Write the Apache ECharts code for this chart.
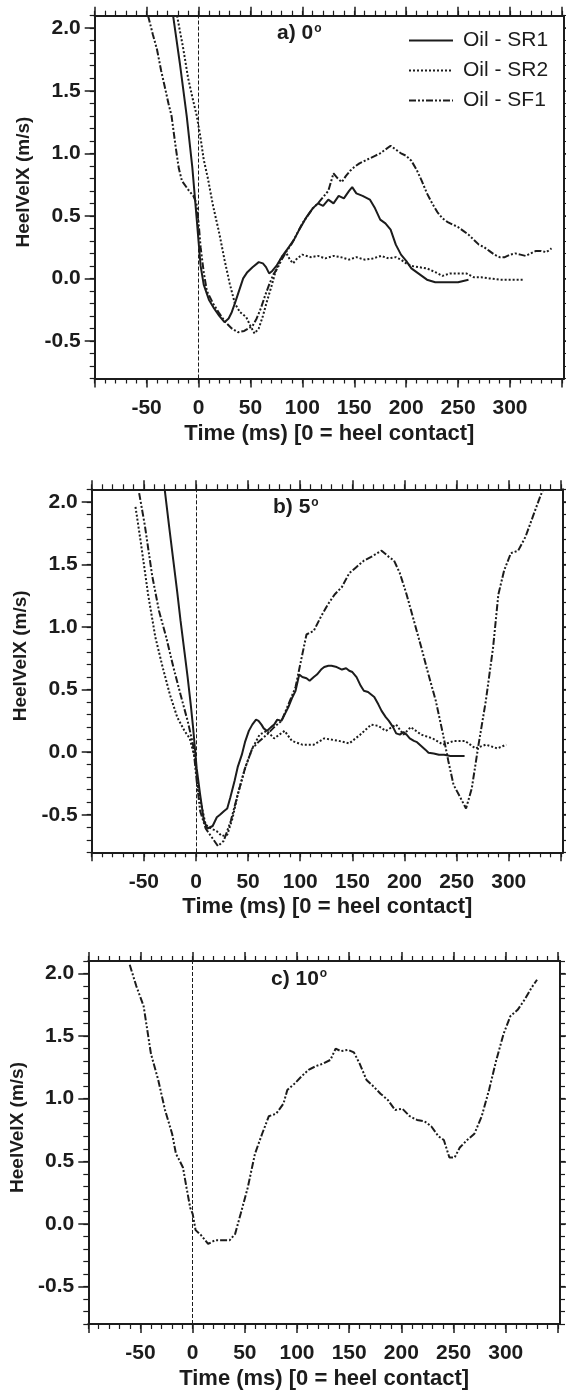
<!DOCTYPE html>
<html><head><meta charset="utf-8">
<script src="https://cdn.jsdelivr.net/npm/echarts@6/dist/echarts.min.js"></script>
<style>html,body{margin:0;padding:0;background:#fff}#c{width:566px;height:1391px}</style>
</head><body><div id="c"></div><script>
// ---------- axis ticks / labels ----------
const xMajorTicks = [-100, -50, 0, 50, 100, 150, 200, 250, 300, 350];
const xLabelValues = [-50, 0, 50, 100, 150, 200, 250, 300];
const yMajorTicks = [-0.5, 0, 0.5, 1.0, 1.5, 2.0];
const xMinorTicks = [-100,-90,-80,-70,-60,-50,-40,-30,-20,-10,0,10,20,30,40,50,60,70,80,90,100,110,120,130,140,150,160,170,180,190,200,210,220,230,240,250,260,270,280,290,300,310,320,330,340,350];
const yMinorTicks = [-0.8,-0.7,-0.6,-0.5,-0.4,-0.3,-0.2,-0.1,0,0.1,0.2,0.3,0.4,0.5,0.6,0.7,0.8,0.9,1.0,1.1,1.2,1.3,1.4,1.5,1.6,1.7,1.8,1.9,2.0,2.1];
const xTitle = 'Time (ms) [0 = heel contact]';
const yTitle = 'HeelVelX (m/s)';
const seriesNames = ['Oil - SR1', 'Oil - SR2', 'Oil - SF1'];
const panelLabels = ['a) 0', 'b) 5', 'c) 10'];

// ---------- panel a) 0 deg ----------
const a_SR1 = [[-24.5,2.1],[-18,1.72],[-11.4,1.3],[-6,0.89],[-2,0.5],[0,0.3],[2,0.1],[5,-0.05],[10,-0.17],[15,-0.24],[20,-0.3],[25,-0.35],[29,-0.32],[32,-0.27],[35,-0.2],[39,-0.1],[43,0.0],[47,0.05],[52,0.09],[58,0.13],[62,0.12],[65,0.09],[68,0.04],[71,0.06],[75,0.1],[80,0.17],[87,0.25],[92,0.31],[97,0.39],[104,0.49],[110,0.56],[115,0.6],[120,0.58],[125,0.63],[130,0.6],[135,0.66],[140,0.64],[145,0.7],[148,0.73],[152,0.68],[158,0.66],[165,0.63],[170,0.56],[175,0.47],[180,0.44],[185,0.39],[190,0.27],[195,0.19],[200,0.14],[205,0.08],[210,0.05],[215,0.02],[220,-0.01],[228,-0.03],[240,-0.03],[250,-0.03],[260,-0.01]];
const a_SR2 = [[-20.7,2.1],[-15,1.85],[-10,1.6],[-6,1.45],[-1.7,1.3],[2,1.12],[5,0.95],[9,0.8],[14,0.58],[20,0.36],[25,0.15],[30,-0.04],[35,-0.2],[40,-0.27],[46,-0.31],[50,-0.38],[54,-0.44],[58,-0.4],[62,-0.3],[66,-0.18],[70,-0.07],[75,0.08],[80,0.17],[84,0.21],[88,0.15],[91,0.12],[95,0.16],[100,0.19],[108,0.17],[115,0.18],[122,0.16],[130,0.18],[137,0.17],[145,0.15],[152,0.17],[160,0.15],[168,0.16],[176,0.18],[183,0.16],[190,0.17],[195,0.15],[200,0.12],[205,0.1],[212,0.09],[220,0.08],[228,0.05],[235,0.02],[242,0.04],[250,0.04],[258,0.04],[265,0.01],[272,0.01],[280,0.0],[290,-0.01],[300,-0.01],[313,-0.01]];
const a_SF1 = [[-48.6,2.1],[-44,1.95],[-40,1.83],[-36,1.66],[-33,1.55],[-29,1.4],[-26,1.3],[-22,1.05],[-19,0.88],[-16,0.78],[-10,0.71],[-5,0.66],[-2,0.6],[0,0.45],[2,0.25],[5,0.05],[8,-0.1],[14,-0.2],[20,-0.28],[26,-0.35],[32,-0.4],[38,-0.43],[44,-0.42],[48,-0.4],[52,-0.38],[56,-0.32],[60,-0.24],[64,-0.14],[68,-0.05],[72,0.03],[76,0.08],[80,0.15],[85,0.22],[90,0.28],[95,0.36],[100,0.44],[105,0.5],[110,0.56],[115,0.6],[120,0.65],[125,0.7],[130,0.84],[134,0.8],[138,0.77],[142,0.82],[146,0.86],[150,0.89],[155,0.92],[160,0.94],[165,0.96],[170,0.98],[175,1.0],[180,1.03],[185,1.06],[190,1.03],[195,1.0],[200,0.98],[205,0.94],[210,0.87],[215,0.78],[220,0.68],[225,0.6],[230,0.53],[235,0.48],[240,0.45],[245,0.43],[250,0.41],[255,0.38],[260,0.35],[265,0.31],[270,0.27],[275,0.25],[280,0.22],[285,0.19],[290,0.17],[295,0.17],[300,0.19],[305,0.2],[310,0.19],[315,0.18],[320,0.2],[325,0.22],[330,0.22],[335,0.21],[340,0.24]];

// ---------- panel b) 5 deg ----------
const b_SR1 = [[-30,2.1],[-25.7,1.8],[-21.7,1.53],[-18,1.28],[-14.8,1.05],[-11,0.8],[-8,0.6],[-5,0.38],[-2.8,0.2],[0.7,-0.13],[4,-0.34],[7.6,-0.55],[11,-0.61],[16,-0.59],[20,-0.52],[23,-0.5],[27,-0.47],[30,-0.45],[33,-0.36],[37,-0.23],[40,-0.12],[44,-0.02],[47,0.08],[50.7,0.17],[54,0.22],[57.6,0.26],[60,0.25],[62.8,0.22],[65,0.19],[68,0.17],[72,0.2],[75,0.22],[78,0.26],[82,0.25],[85,0.3],[88.6,0.36],[92,0.43],[95.5,0.49],[99,0.62],[102,0.6],[106,0.59],[109,0.57],[113,0.6],[116,0.62],[120,0.66],[123,0.68],[127,0.69],[130,0.69],[135,0.68],[140,0.66],[144,0.67],[147,0.65],[150,0.64],[154,0.6],[158,0.53],[161,0.49],[165,0.48],[168,0.46],[171,0.44],[175,0.38],[178,0.33],[182,0.28],[185,0.25],[189,0.2],[192,0.15],[195.5,0.14],[199,0.16],[202,0.14],[205,0.11],[209,0.09],[212,0.08],[216,0.05],[220,0.02],[223,-0.005],[228,-0.01],[233,-0.02],[238,-0.02],[244,-0.03],[250,-0.03],[257.6,-0.03]];
const b_SR2 = [[-58,1.96],[-52.8,1.67],[-45.9,1.26],[-39,0.92],[-32,0.68],[-25,0.46],[-18,0.28],[-11,0.17],[-6,0.11],[-1,-0.05],[2.4,-0.31],[5.9,-0.45],[9.3,-0.58],[14.5,-0.61],[19.7,-0.63],[24.8,-0.67],[30,-0.66],[35,-0.53],[40,-0.34],[47,-0.13],[54,0.03],[61,0.14],[68,0.17],[75,0.11],[85,0.17],[92,0.09],[102,0.06],[113,0.06],[123,0.11],[137,0.09],[147,0.07],[157.6,0.14],[168,0.22],[175,0.21],[182,0.17],[192,0.22],[199,0.14],[206,0.2],[216,0.14],[227,0.11],[237,0.06],[247.6,0.09],[258,0.09],[268,0.03],[278,0.06],[289,0.03],[297.6,0.06]];
const b_SF1 = [[-54.5,2.07],[-49,1.81],[-42,1.41],[-35.5,1.13],[-28.6,0.92],[-21.7,0.68],[-14.8,0.46],[-8,0.25],[-2.8,0.06],[0.7,-0.23],[4,-0.47],[9.3,-0.61],[16,-0.69],[21,-0.75],[26.5,-0.71],[33.4,-0.55],[40,-0.34],[47,-0.13],[54,0.03],[61,0.09],[68,0.14],[75,0.2],[82,0.25],[88.6,0.38],[95.5,0.52],[100.7,0.73],[106,0.94],[113,0.97],[119.7,1.08],[126.5,1.18],[133,1.26],[140,1.32],[147,1.43],[154,1.48],[161,1.53],[168,1.56],[178,1.61],[185,1.56],[190,1.53],[195.5,1.43],[202,1.26],[209,1.05],[216,0.84],[223,0.62],[230,0.41],[237,0.14],[242,-0.07],[247,-0.26],[254,-0.37],[259,-0.45],[264.5,-0.29],[271,0.06],[278,0.41],[285,0.84],[290,1.26],[295.5,1.45],[302,1.59],[309,1.61],[316,1.72],[323,1.88],[330,2.04],[333,2.1]];

// ---------- panel c) 10 deg ----------
const c_SF1 = [[-60.3,2.07],[-54,1.9],[-47,1.74],[-40,1.36],[-33,1.15],[-26.5,0.91],[-19.7,0.72],[-16,0.56],[-12.8,0.51],[-9.3,0.45],[-5.9,0.29],[-2.4,0.13],[0,0.08],[2.8,-0.05],[8,-0.09],[14.8,-0.16],[21.7,-0.13],[28.6,-0.13],[35.5,-0.13],[40.7,-0.08],[46,0.08],[52.8,0.29],[59.7,0.56],[66.6,0.72],[73,0.86],[80,0.88],[87,0.96],[90.7,1.07],[97.6,1.12],[104.5,1.18],[111,1.23],[118,1.26],[125,1.28],[132,1.31],[137,1.4],[142,1.38],[149,1.39],[154.5,1.37],[160,1.28],[166.6,1.15],[173,1.1],[180,1.04],[187,0.99],[194,0.91],[201,0.92],[208,0.86],[215,0.83],[222,0.82],[228.6,0.78],[235.5,0.7],[240.7,0.67],[246,0.53],[251,0.53],[256,0.61],[263,0.67],[270,0.72],[277,0.86],[284,1.07],[291,1.31],[298,1.52],[304.5,1.66],[311.4,1.71],[318,1.79],[325,1.89],[330,1.95]];

const panelData = [
  [a_SR1, a_SR2, a_SF1],
  [b_SR1, b_SR2, b_SF1],
  [null, null, c_SF1]
];

// ---------- layout / style ----------
const X_MIN = -100, X_MAX = 352, Y_MIN = -0.8, Y_MAX = 2.1;
const grids = [
  {left: 94.7, top: 15.7, width: 469.3, height: 362.8},
  {left: 91.7, top: 489.3, width: 471.3, height: 363},
  {left: 88.3, top: 961, width: 471.7, height: 363}
];
const FONT = '"Liberation Sans", Arial, sans-serif';
const INK = '#1c1c1c';
const lineTypes = ['solid', [2, 2], [7, 2, 2, 2, 2, 2]];

const xAxes = [], yAxes = [], series = [], graphics = [];
const noLine = {show: false, onZero: false};
grids.forEach((g, i) => {
  const axisLineBox = {show: true, onZero: false, lineStyle: {color: INK, width: 2}};
  const majorTick = (vals, len) => ({show: true, inside: false, length: len, customValues: vals, lineStyle: {color: INK, width: 1.5}});
  const minorTick = (vals) => ({show: true, inside: false, length: 5, customValues: vals, lineStyle: {color: INK, width: 1.2}});
  // bottom major
  xAxes.push({gridIndex: i, type: 'value', position: 'bottom', min: X_MIN, max: X_MAX,
    axisLine: axisLineBox, splitLine: {show: false},
    axisTick: majorTick(xMajorTicks, 9),
    axisLabel: {show: true, customValues: xLabelValues, margin: 19, color: INK, fontFamily: FONT, fontWeight: 'bold', fontSize: 21},
    name: xTitle, nameLocation: 'middle', nameGap: 44,
    nameTextStyle: {color: INK, fontFamily: FONT, fontWeight: 'bold', fontSize: 22}});
  // bottom minor
  xAxes.push({gridIndex: i, type: 'value', position: 'bottom', min: X_MIN, max: X_MAX,
    axisLine: noLine, splitLine: {show: false}, axisLabel: {show: false}, axisTick: minorTick(xMinorTicks)});
  // top major
  xAxes.push({gridIndex: i, type: 'value', position: 'top', min: X_MIN, max: X_MAX,
    axisLine: axisLineBox, splitLine: {show: false}, axisLabel: {show: false}, axisTick: majorTick(xMajorTicks, 9)});
  // top minor
  xAxes.push({gridIndex: i, type: 'value', position: 'top', min: X_MIN, max: X_MAX,
    axisLine: noLine, splitLine: {show: false}, axisLabel: {show: false}, axisTick: minorTick(xMinorTicks)});
  // left major
  yAxes.push({gridIndex: i, type: 'value', position: 'left', min: Y_MIN, max: Y_MAX,
    axisLine: axisLineBox, splitLine: {show: false},
    axisTick: majorTick(yMajorTicks, 10),
    axisLabel: {show: true, customValues: yMajorTicks, margin: 14, color: INK, fontFamily: FONT, fontWeight: 'bold', fontSize: 21,
      formatter: v => Number(v).toFixed(1)},
    name: yTitle, nameLocation: 'middle', nameGap: 57, nameRotate: 90,
    nameTextStyle: {color: INK, fontFamily: FONT, fontWeight: 'bold', fontSize: 19, padding: [0, 0, 0, 30]}});
  // left minor
  yAxes.push({gridIndex: i, type: 'value', position: 'left', min: Y_MIN, max: Y_MAX,
    axisLine: noLine, splitLine: {show: false}, axisLabel: {show: false}, axisTick: minorTick(yMinorTicks)});
  // right major
  yAxes.push({gridIndex: i, type: 'value', position: 'right', min: Y_MIN, max: Y_MAX,
    axisLine: axisLineBox, splitLine: {show: false}, axisLabel: {show: false}, axisTick: majorTick(yMajorTicks, 10)});
  // right minor
  yAxes.push({gridIndex: i, type: 'value', position: 'right', min: Y_MIN, max: Y_MAX,
    axisLine: noLine, splitLine: {show: false}, axisLabel: {show: false}, axisTick: minorTick(yMinorTicks)});

  let first = true;
  panelData[i].forEach((d, k) => {
    if (!d) return;
    const s = {
      name: seriesNames[k], type: 'line', xAxisIndex: i * 4, yAxisIndex: i * 4,
      data: d, showSymbol: false, symbol: 'none', smooth: false, clip: true,
      lineStyle: {color: INK, width: 2, type: lineTypes[k]}, itemStyle: {color: INK},
      emphasis: {disabled: true}, z: 3
    };
    if (first) {
      s.markLine = {silent: true, symbol: 'none', label: {show: false},
        lineStyle: {color: INK, width: 1, type: [4, 2]}, data: [{xAxis: 0}], animation: false};
      first = false;
    }
    series.push(s);
  });

  graphics.push({type: 'text', left: [277, 273, 271][i], top: g.top + 7,
    style: {text: '{t|' + panelLabels[i] + '}{s|o}', rich: {
      t: {fontFamily: FONT, fontWeight: 'bold', fontSize: 21, fill: INK, lineHeight: 22},
      s: {fontFamily: FONT, fontWeight: 'bold', fontSize: 12, fill: INK, verticalAlign: 'top', lineHeight: 22, padding: [0, 0, 8, 1]}
    }}});
});

const chart = echarts.init(document.getElementById('c'), null, {renderer: 'canvas'});
chart.setOption({
  animation: false,
  backgroundColor: '#ffffff',
  grid: grids.map(g => Object.assign({containLabel: false}, g)),
  xAxis: xAxes,
  yAxis: yAxes,
  legend: {show: true, orient: 'vertical', left: 408, top: 30, padding: 0, itemWidth: 44, itemHeight: 12, itemGap: 9,
    data: seriesNames, selectedMode: false,
    itemStyle: {opacity: 0},
    textStyle: {color: INK, fontFamily: FONT, fontSize: 21, lineHeight: 20, padding: [0, 0, 0, 5]}},
  graphic: graphics,
  series: series
});
</script></body></html>
